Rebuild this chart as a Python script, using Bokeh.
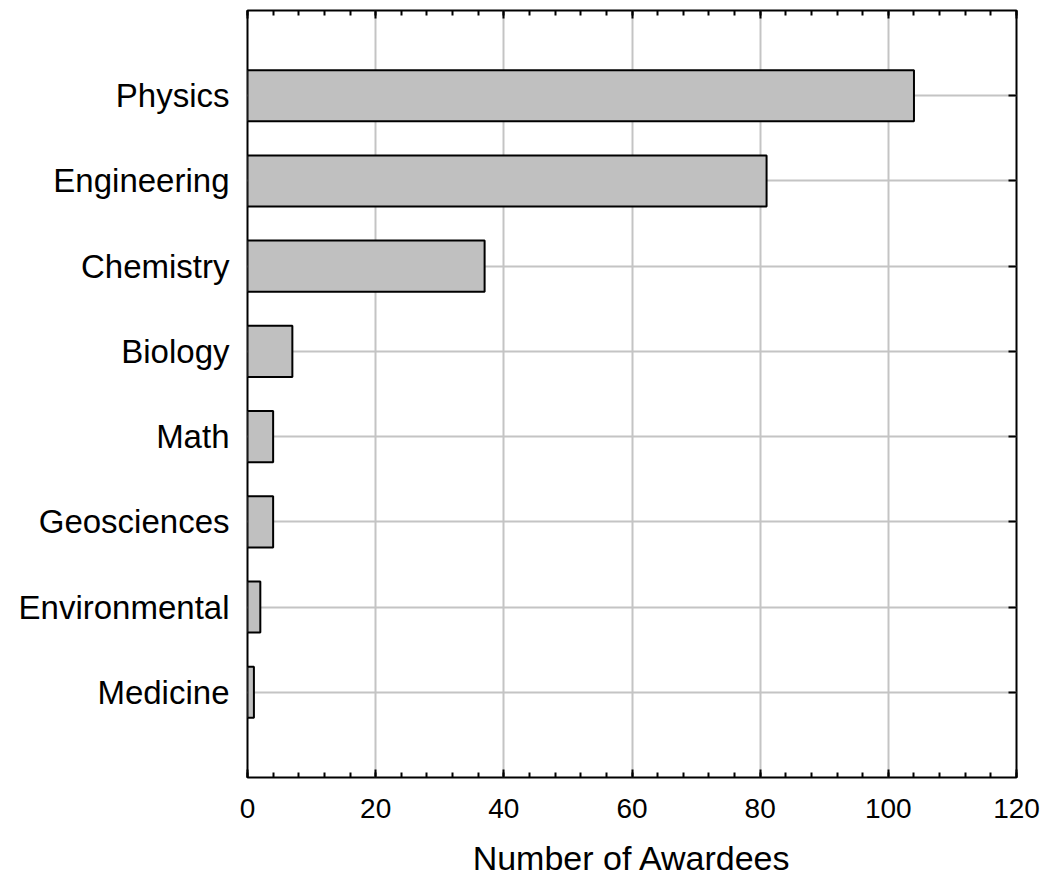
from bokeh.plotting import figure
from bokeh.models import Range1d, FixedTicker, LinearAxis, ColumnDataSource
from bokeh.embed import file_html
from bokeh.resources import INLINE

categories = ["Physics", "Engineering", "Chemistry", "Biology", "Math",
              "Geosciences", "Environmental", "Medicine"]
awardees = [104, 81, 37, 7, 4, 4, 2, 1]
x_ticks = [0, 20, 40, 60, 80, 100, 120]

n = len(categories)
positions = [n - i for i in range(n)]  # Physics at top
src = ColumnDataSource(dict(y=positions, right=awardees, cat=categories))

FONT = "Liberation Sans"

p = figure(width=1044, height=879, output_backend="svg", toolbar_location=None,
           x_range=Range1d(0, 120), y_range=Range1d(0, n + 1),
           x_axis_location=None, y_axis_location=None,
           min_border_left=247, min_border_right=28, min_border_top=10,
           min_border_bottom=102)

p.outline_line_color = "black"
p.outline_line_width = 2
p.background_fill_color = "white"
p.border_fill_color = "white"

xt = FixedTicker(ticks=x_ticks, minor_ticks=[v for v in range(0, 121, 4)])
yt = FixedTicker(ticks=positions)

def style_x(ax, labels=True):
    ax.ticker = xt
    ax.axis_line_color = None
    ax.major_tick_in = 8
    ax.major_tick_out = 0
    ax.minor_tick_in = 5
    ax.minor_tick_out = 0
    ax.major_tick_line_width = 2
    ax.minor_tick_line_width = 2
    ax.major_tick_line_color = "black"
    ax.minor_tick_line_color = "black"
    if labels:
        ax.major_label_text_font = FONT
        ax.major_label_text_font_size = "28px"
        ax.major_label_text_color = "black"
        ax.major_label_standoff = 21
    else:
        ax.major_label_overrides = {t: "" for t in x_ticks}
        ax.major_label_text_font_size = "1px"
        ax.major_label_standoff = 0

bottom = LinearAxis(axis_label="Number of Awardees")
style_x(bottom)
bottom.axis_label_text_font = FONT
bottom.axis_label_text_font_size = "34px"
bottom.axis_label_text_font_style = "normal"
bottom.axis_label_text_color = "black"
bottom.axis_label_standoff = 18
p.add_layout(bottom, "below")

top = LinearAxis()
style_x(top, labels=False)
p.add_layout(top, "above")

left = LinearAxis(ticker=yt)
left.major_label_overrides = {pos: c for pos, c in zip(positions, categories)}
left.axis_line_color = None
left.major_tick_line_color = None
left.minor_tick_line_color = None
left.major_label_text_font = FONT
left.major_label_text_font_size = "33px"
left.major_label_text_color = "black"
left.major_label_standoff = 12
p.add_layout(left, "left")

right = LinearAxis(ticker=yt)
right.axis_line_color = None
right.major_tick_in = 8
right.major_tick_out = 0
right.major_tick_line_width = 2
right.major_tick_line_color = "black"
right.minor_tick_line_color = None
right.major_label_overrides = {pos: "" for pos in positions}
right.major_label_text_font_size = "1px"
right.major_label_standoff = 0
p.add_layout(right, "right")

p.xgrid.ticker = FixedTicker(ticks=x_ticks)
p.ygrid.ticker = yt
p.xgrid.grid_line_color = "#c4c4c4"
p.ygrid.grid_line_color = "#c4c4c4"
p.xgrid.grid_line_width = 2
p.ygrid.grid_line_width = 2

p.hbar(y="y", left=0, right="right", height=0.6, source=src,
       fill_color="#c0c0c0", line_color="black", line_width=2)

open("out.html", "w").write(file_html(p, INLINE))
